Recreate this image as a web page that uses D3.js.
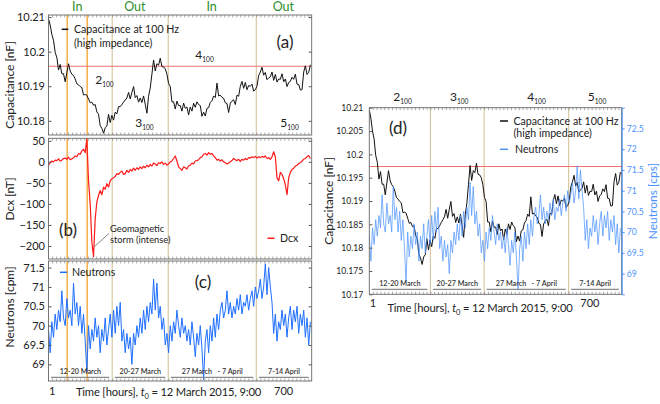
<!DOCTYPE html>
<html><head><meta charset="utf-8">
<script src="https://cdn.jsdelivr.net/npm/d3@7"></script>
<style>
body{margin:0;background:#fff}
svg{display:block;font-family:Lato,"Open Sans",sans-serif}
</style></head><body>
<svg id="c" width="660" height="404"></svg>
<script>
// ---------- data ----------
const hourStart = 1, hourStep = 5;
const capacitance = [
10.2095,10.2077,10.2050,10.2033,10.1998,10.1983,10.1947,10.1963,10.1936,10.1936,
10.1913,10.1939,10.1965,10.1944,10.1935,10.1931,10.1921,10.1907,10.1904,10.1899,
10.1896,10.1875,10.1876,10.1874,10.1863,10.1852,10.1854,10.1845,10.1847,10.1826,
10.1819,10.1786,10.1778,10.1764,10.1780,10.1785,10.1819,10.1795,10.1816,10.1802,
10.1825,10.1820,10.1841,10.1841,10.1847,10.1854,10.1860,10.1866,10.1882,10.1863,
10.1882,10.1899,10.1867,10.1873,10.1854,10.1866,10.1853,10.1872,10.1848,10.1822,
10.1871,10.1895,10.1935,10.1976,10.1944,10.1965,10.1961,10.1981,10.1957,10.1956,
10.1950,10.1935,10.1908,10.1899,10.1855,10.1855,10.1834,10.1857,10.1844,10.1844,
10.1828,10.1851,10.1836,10.1840,10.1817,10.1840,10.1828,10.1851,10.1839,10.1855,
10.1847,10.1844,10.1813,10.1825,10.1814,10.1836,10.1838,10.1853,10.1858,10.1872,
10.1867,10.1909,10.1872,10.1874,10.1868,10.1865,10.1852,10.1850,10.1824,10.1851,
10.1857,10.1861,10.1847,10.1874,10.1871,10.1900,10.1914,10.1894,10.1911,10.1890,
10.1902,10.1900,10.1906,10.1886,10.1890,10.1900,10.1931,10.1941,10.1955,10.1932,
10.1940,10.1919,10.1924,10.1927,10.1941,10.1917,10.1934,10.1912,10.1921,10.1920,
10.1936,10.1913,10.1921,10.1899,10.1911,10.1914,10.1926,10.1920,10.1935,10.1906,
10.1905,10.1889,10.1890,10.1941,10.1959,10.1934,10.1940,10.1962];
const dcx = [
-8,-2,2,0,4,3,7,2,4,8,
9,6,11,5,7,10,14,12,20,18,
26,30,22,55,-45,-100,-190,-225,-135,-95,
-80,-68,-78,-60,-65,-52,-60,-45,-40,-38,
-35,-28,-30,-25,-22,-30,-28,-20,-25,-18,
-22,-15,-20,-14,-18,-12,-16,-10,-14,-8,
-12,-6,-10,-3,-5,-9,-2,-4,0,-6,
-3,-8,-5,0,2,8,14,2,-12,-16,
-20,-12,-14,-17,-10,-8,-3,-5,2,3,
5,10,12,18,20,16,22,18,20,14,
10,4,6,2,5,0,-2,-5,-3,0,
3,8,5,3,6,1,6,4,8,5,
10,9,12,10,13,9,12,10,13,11,
14,8,10,6,12,24,12,-38,-45,-25,
-30,-40,-55,-78,-38,-25,-18,-15,-10,-8,
-4,-2,2,6,8,12,15,8];
const neutrons = [
69.9,69.3,70.1,69.7,70.3,69.9,70.4,70.1,70.9,70.2,
70.0,70.7,70.2,70.4,70.0,71.1,70.3,70.6,70.0,70.5,
69.8,70.3,69.6,68.8,70.0,69.4,69.9,69.6,70.2,69.7,
70.0,69.3,69.9,69.6,70.2,69.5,69.9,70.3,69.7,70.4,
69.8,70.5,70.0,70.6,69.6,69.9,69.3,69.8,69.4,69.7,
69.0,69.8,69.5,70.0,69.7,70.2,69.8,70.4,69.9,70.5,
70.1,70.6,70.3,71.2,70.4,71.1,70.2,70.5,69.9,70.2,
69.5,69.8,69.3,70.0,69.6,70.1,69.8,70.4,70.0,69.7,
70.2,69.8,70.0,69.6,69.9,69.5,70.1,69.7,69.2,69.8,
69.5,70.0,69.4,68.6,69.6,69.9,69.3,70.0,69.6,70.2,
69.7,70.3,69.9,70.4,70.6,70.2,70.4,70.9,70.3,70.6,
70.2,70.5,70.3,70.7,70.4,70.8,70.3,70.6,70.5,70.8,
70.4,70.7,70.9,70.5,71.0,70.7,70.9,71.2,70.7,71.0,
71.6,70.8,71.5,71.0,70.6,69.8,70.3,69.6,70.1,69.9,
70.4,70.0,70.3,69.7,70.2,70.5,69.9,70.4,70.1,70.5,
69.8,70.3,70.0,70.4,69.7,70.2,69.5,70.1];

const xDomain = [1, 790];
const xTickLabels = [1, 700];
const capTicksA = [10.18, 10.19, 10.2, 10.21];
const dcxTicks = [50, 0, -50, -100, -150, -200];
const neutronTicksC = [69, 69.5, 70, 70.5, 71, 71.5];
const capTicksD = [10.17, 10.175, 10.18, 10.185, 10.19, 10.195, 10.2, 10.205, 10.21];
const neutronTicksD = [69, 69.5, 70, 70.5, 71, 71.5, 72, 72.5];
const refLineA = 10.1958, refLineD = 10.1974;
const orangeLines = [57, 117];
const tanLines = [192, 360, 624];
const inOutHours = [87, 260, 490, 705];
const inOutText = ["In", "Out", "In", "Out"];
const dateRanges = [[1, 192], [192, 360], [360, 624], [624, 790]];
const dateLabels = ["12-20 March", "20-27 March", "27 March\u2003- 7 April", "7-14 April"];
const subLabelsA = [{h:141, v:10.1918, n:"2"}, {h:261, v:10.1793, n:"3"}, {h:441, v:10.1990, n:"4"}, {h:696, v:10.1793, n:"5"}];
const subLabelsD = [{h:76, n:"2"}, {h:253, n:"3"}, {h:495, n:"4"}, {h:684, n:"5"}];

// ---------- layout ----------
const hours = capacitance.map((_, i) => hourStart + i * hourStep);
const L = {x0: 48.5, x1: 311.7};
const PA = {y0: 15, y1: 135}, PB = {y0: 138.3, y1: 259}, PC = {y0: 261, y1: 381};
const R = {x0: 369.3, x1: 621.7, y0: 107.7, y1: 294.3};
const C = {black: "#111", red: "#ff1a1a", blue: "#1f6fff", blueD: "#4c93ff", ref: "#f07070",
           orange: "#f4a93a", tan: "#d9c9a6", frame: "#666", text: "#222", green: "#2f8f2f"};

const svg = d3.select("#c");
const xL = d3.scaleLinear().domain(xDomain).range([L.x0, L.x1]);
const xR = d3.scaleLinear().domain(xDomain).range([R.x0, R.x1]);
const yA = d3.scaleLinear().domain([10.1759, 10.2106]).range([PA.y1, PA.y0]);
const yB = d3.scaleLinear().domain([-231, 56]).range([PB.y1, PB.y0]);
const yC = d3.scaleLinear().domain([68.57, 71.67]).range([PC.y1, PC.y0]);
const yD = d3.scaleLinear().domain([10.17, 10.21]).range([R.y1, R.y0]);
const yN = d3.scaleLinear().domain([68.5, 73]).range([R.y1, R.y0]);

const defs = svg.append("defs");
function clip(id, x0, x1, y0, y1) {
  defs.append("clipPath").attr("id", id).append("rect")
    .attr("x", x0).attr("y", y0).attr("width", x1 - x0).attr("height", y1 - y0);
  return `url(#${id})`;
}

const minorHours = d3.range(12, xDomain[1], 12);
function xMinor(x, y0, y1) {
  svg.append("g").attr("transform", `translate(0,${y1})`)
    .call(d3.axisBottom(x).tickValues(minorHours).tickSize(-2.5).tickFormat(""))
    .call(g => { g.select(".domain").remove(); g.selectAll("line").attr("stroke", "#777").attr("stroke-width", 0.6); });
  svg.append("g").attr("transform", `translate(0,${y0})`)
    .call(d3.axisTop(x).tickValues(minorHours).tickSize(-2.5).tickFormat(""))
    .call(g => { g.select(".domain").remove(); g.selectAll("line").attr("stroke", "#777").attr("stroke-width", 0.6); });
}
function yAxis(y, x0, x1, vals, fmt, size) {
  svg.append("g").attr("transform", `translate(${x0},0)`)
    .call(d3.axisLeft(y).tickValues(vals).tickSize(-3).tickPadding(3.5).tickFormat(fmt))
    .call(g => { g.select(".domain").remove();
      g.attr("font-family", null).attr("font-size", size || 11);
      g.selectAll("text").attr("fill", C.text);
      g.selectAll("line").attr("stroke", "#555"); });
  svg.append("g").attr("transform", `translate(${x1},0)`)
    .call(d3.axisRight(y).tickValues(vals).tickSize(-3).tickFormat(""))
    .call(g => { g.select(".domain").remove(); g.selectAll("line").attr("stroke", "#555"); });
}
function frame(x0, x1, y0, y1) {
  svg.append("rect").attr("x", x0).attr("y", y0).attr("width", x1 - x0).attr("height", y1 - y0)
    .attr("fill", "none").attr("stroke", C.frame).attr("stroke-width", 0.9);
}
function vlines(x, y0, y1, hs, color, w) {
  svg.append("g").selectAll("line").data(hs).enter().append("line")
    .attr("x1", d => x(d)).attr("x2", d => x(d)).attr("y1", y0).attr("y2", y1)
    .attr("stroke", color).attr("stroke-width", w);
}
function curve(x, y, vals, color, w, cp, op) {
  svg.append("path").datum(vals.map((v, i) => [hours[i], v]))
    .attr("d", d3.line().x(d => x(d[0])).y(d => y(d[1])))
    .attr("fill", "none").attr("stroke", color).attr("stroke-width", w)
    .attr("stroke-linejoin", "round").attr("clip-path", cp).attr("opacity", op || 1);
}
function txt(x, y, s, size, opts = {}) {
  return svg.append("text").attr("x", x).attr("y", y).attr("font-size", size)
    .attr("fill", opts.fill || C.text).attr("text-anchor", opts.anchor || "start").text(s);
}
function subText(x, y, n, size) {
  const t = svg.append("text").attr("x", x).attr("y", y).attr("font-size", size).attr("fill", C.text);
  t.append("tspan").text(n);
  t.append("tspan").attr("font-size", size * 0.55).attr("dy", 3).text("100");
}
function rotTitle(x, y, s, size, fill) {
  svg.append("text").attr("transform", `translate(${x},${y}) rotate(-90)`)
    .attr("text-anchor", "middle").attr("font-size", size).attr("fill", fill || C.text).text(s);
}
function xTitle(cx, base) {
  const t = svg.append("text").attr("x", cx).attr("y", base).attr("text-anchor", "middle")
    .attr("font-size", 11.2).attr("letter-spacing", -0.15).attr("fill", C.text);
  t.append("tspan").text("Time [hours], ");
  t.append("tspan").attr("font-style", "italic").text("t");
  t.append("tspan").attr("font-size", 7.5).attr("dy", 3).text("0");
  t.append("tspan").attr("dy", -3).text(" = 12 March 2015, 9:00");
}
function dates(x, barY, labY) {
  const g = svg.append("g");
  g.selectAll("line").data(dateRanges).enter().append("line")
    .attr("x1", d => x(d[0]) + 2.5).attr("x2", d => x(d[1]) - 3).attr("y1", barY).attr("y2", barY)
    .attr("stroke", "#8a8a8a").attr("stroke-width", 1.3);
  g.selectAll("text").data(dateRanges).enter().append("text")
    .attr("x", d => (x(d[0]) + x(d[1])) / 2).attr("y", labY).attr("text-anchor", "middle")
    .attr("font-size", 7.2).attr("font-weight", 600).attr("fill", "#333")
    .text((d, i) => dateLabels[i]);
}
const fmtPlain = d => String(d);
const fmtMinus = d => d < 0 ? "\u2212" + Math.abs(d) : String(d);
const LEG = 10.6;

// ---------- panel (a) ----------
const cpA = clip("ca", L.x0, L.x1, PA.y0, PA.y1);
vlines(xL, PA.y0, PA.y1, orangeLines, C.orange, 1.4);
vlines(xL, PA.y0, PA.y1, tanLines, C.tan, 1.2);
svg.append("line").attr("x1", L.x0).attr("x2", L.x1).attr("y1", yA(refLineA)).attr("y2", yA(refLineA))
  .attr("stroke", C.ref).attr("stroke-width", 1.1);
curve(xL, yA, capacitance, C.black, 1, cpA);
xMinor(xL, PA.y0, PA.y1);
yAxis(yA, L.x0, L.x1, capTicksA, fmtPlain);
frame(L.x0, L.x1, PA.y0, PA.y1);
subLabelsA.forEach(d => subText(xL(d.h), yA(d.v) + 4, d.n, 12));
svg.append("line").attr("x1", 61.7).attr("x2", 68.3).attr("y1", 29.3).attr("y2", 29.3).attr("stroke", C.black).attr("stroke-width", 1.5);
txt(74, 33, "Capacitance at 100 Hz", LEG);
txt(74, 46.5, "(high impedance)", LEG);
txt(285, 48, "(a)", 17, {anchor: "middle"});
inOutHours.forEach((h, i) => txt(xL(h), 11, inOutText[i], 12.5, {anchor: "middle", fill: C.green}));
rotTitle(14, 85, "Capacitance [nF]", 12);

// ---------- panel (b) ----------
const cpB = clip("cb", L.x0, L.x1, PB.y0, PB.y1);
vlines(xL, PB.y0, PB.y1, orangeLines, C.orange, 1.4);
vlines(xL, PB.y0, PB.y1, tanLines, C.tan, 1.2);
curve(xL, yB, dcx, C.red, 1.2, cpB);
xMinor(xL, PB.y0, PB.y1);
yAxis(yB, L.x0, L.x1, dcxTicks, fmtMinus);
frame(L.x0, L.x1, PB.y0, PB.y1);
txt(68, 236, "(b)", 17, {anchor: "middle"});
txt(110, 231.5, "Geomagnetic", 9.3);
txt(110, 242.5, "storm (intense)", 9.3);
svg.append("line").attr("x1", 109).attr("y1", 233.5).attr("x2", 94.5).attr("y2", 246.5).attr("stroke", "#555").attr("stroke-width", 0.7);
svg.append("line").attr("x1", 267.5).attr("x2", 274.5).attr("y1", 238.3).attr("y2", 238.3).attr("stroke", C.red).attr("stroke-width", 1.5);
txt(280, 242, "Dcx", LEG);
rotTitle(14, 199, "Dcx [nT]", 12);

// ---------- panel (c) ----------
const cpC = clip("cc", L.x0, L.x1, PC.y0, PC.y1);
vlines(xL, PC.y0, PC.y1, orangeLines, C.orange, 1.4);
vlines(xL, PC.y0, PC.y1, tanLines, C.tan, 1.2);
curve(xL, yC, neutrons, C.blue, 1, cpC);
dates(xL, 377.3, 373.8);
xMinor(xL, PC.y0, PC.y1);
yAxis(yC, L.x0, L.x1, neutronTicksC, fmtPlain);
frame(L.x0, L.x1, PC.y0, PC.y1);
svg.append("line").attr("x1", 60).attr("x2", 67).attr("y1", 272.3).attr("y2", 272.3).attr("stroke", C.blue).attr("stroke-width", 1.5);
txt(72, 276, "Neutrons", LEG);
txt(203, 288, "(c)", 17, {anchor: "middle"});
rotTitle(14, 307, "Neutrons [cpm]", 12);
txt(xL(xTickLabels[0]) + 0.5, 394.5, String(xTickLabels[0]), 11);
txt(xL(xTickLabels[1]) + 2, 394.5, String(xTickLabels[1]), 11, {anchor: "middle"});
xTitle(168.5, 395.5);

// ---------- panel (d) ----------
const cpD = clip("cd", R.x0, R.x1, R.y0, R.y1);
vlines(xR, R.y0, R.y1, tanLines, C.tan, 1.2);
svg.append("line").attr("x1", R.x0).attr("x2", R.x1).attr("y1", yD(refLineD)).attr("y2", yD(refLineD))
  .attr("stroke", C.ref).attr("stroke-width", 1.1);
curve(xR, yD, capacitance, C.black, 1, cpD);
curve(xR, yN, neutrons, C.blueD, 1, cpD, 0.72);
dates(xR, 289.3, 285.8);
xMinor(xR, R.y0, R.y1);
svg.append("g").attr("transform", `translate(${R.x0},0)`)
  .call(d3.axisLeft(yD).tickValues(capTicksD).tickSize(-3).tickPadding(6).tickFormat(fmtPlain))
  .call(g => { g.select(".domain").remove(); g.attr("font-family", null).attr("font-size", 8.6);
    g.selectAll("text").attr("fill", C.text); g.selectAll("line").attr("stroke", "#555"); });
frame(R.x0, R.x1, R.y0, R.y1);
svg.append("g").attr("transform", `translate(${R.x1},0)`)
  .call(d3.axisRight(yN).tickValues(neutronTicksD).tickSize(3).tickPadding(2).tickFormat(fmtPlain))
  .call(g => { g.select(".domain").attr("stroke", C.blueD);
    g.attr("font-family", null).attr("font-size", 8.6);
    g.selectAll("text").attr("fill", C.blueD); g.selectAll("line").attr("stroke", C.blueD); });
subLabelsD.forEach(d => subText(xR(d.h), 101, d.n, 12));
txt(398, 134, "(d)", 17, {anchor: "middle"});
svg.append("line").attr("x1", 500).attr("x2", 508).attr("y1", 121).attr("y2", 121).attr("stroke", C.black).attr("stroke-width", 1.5);
txt(513.5, 124.8, "Capacitance at 100 Hz", LEG);
txt(513.5, 136.5, "(high impedance)", LEG);
svg.append("line").attr("x1", 500).attr("x2", 508).attr("y1", 149.3).attr("y2", 149.3).attr("stroke", C.blueD).attr("stroke-width", 1.5);
txt(515, 153, "Neutrons", LEG);
rotTitle(333, 201, "Capacitance [nF]", 12);
rotTitle(657, 201, "Neutrons [cps]", 12, C.blueD);
txt(xR(xTickLabels[0]) + 0.5, 307, String(xTickLabels[0]), 11);
txt(xR(xTickLabels[1]) - 3, 307, String(xTickLabels[1]), 11, {anchor: "middle"});
xTitle(480, 312);
</script>
</body></html>
